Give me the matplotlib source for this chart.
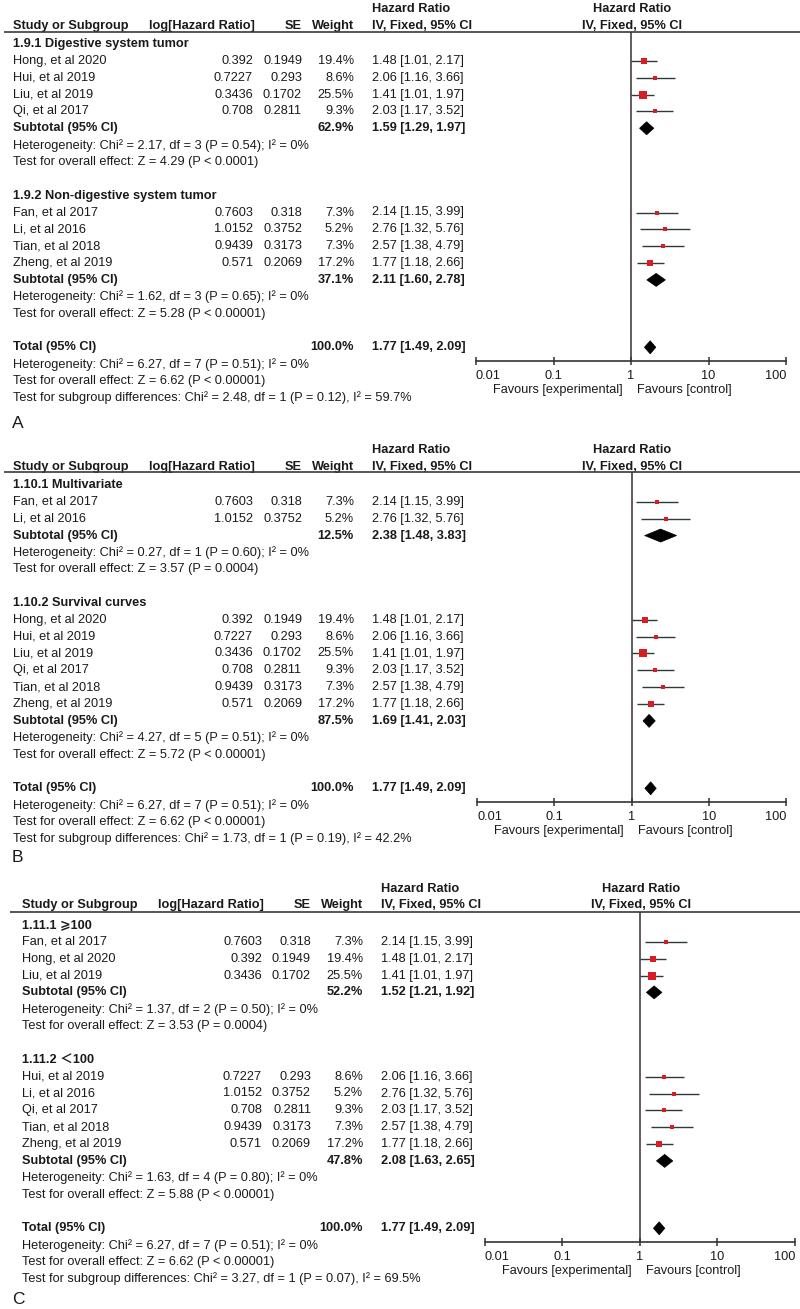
import matplotlib
matplotlib.use("Agg")
import matplotlib.pyplot as plt
import numpy as np
from matplotlib.patches import Polygon

plt.rcParams['font.family'] = ['Liberation Sans', 'DejaVu Sans', 'Noto Sans CJK SC']

# ---------------- data ----------------
study_names = ["Hong, et al 2020", "Hui, et al 2019", "Liu, et al 2019", "Qi, et al 2017",
               "Fan, et al 2017", "Li, et al 2016", "Tian, et al 2018", "Zheng, et al 2019"]
log_hr = [0.392, 0.7227, 0.3436, 0.708, 0.7603, 1.0152, 0.9439, 0.571]
se_vals = [0.1949, 0.293, 0.1702, 0.2811, 0.318, 0.3752, 0.3173, 0.2069]
weights = [19.4, 8.6, 25.5, 9.3, 7.3, 5.2, 7.3, 17.2]
hr = [1.48, 2.06, 1.41, 2.03, 2.14, 2.76, 2.57, 1.77]
hr_lo = [1.01, 1.16, 1.01, 1.17, 1.15, 1.32, 1.38, 1.18]
hr_hi = [2.17, 3.66, 1.97, 3.52, 3.99, 5.76, 4.79, 2.66]

panel_letters = ["A", "B", "C"]

groups_A = ["1.9.1 Digestive system tumor", "1.9.2 Non-digestive system tumor"]
members_A = [["Hong, et al 2020", "Hui, et al 2019", "Liu, et al 2019", "Qi, et al 2017"],
             ["Fan, et al 2017", "Li, et al 2016", "Tian, et al 2018", "Zheng, et al 2019"]]
sub_w_A = [62.9, 37.1]
sub_hr_A = [1.59, 2.11]
sub_lo_A = [1.29, 1.60]
sub_hi_A = [1.97, 2.78]
het_A = ["Heterogeneity: Chi² = 2.17, df = 3 (P = 0.54); I² = 0%",
         "Heterogeneity: Chi² = 1.62, df = 3 (P = 0.65); I² = 0%"]
z_A = ["Test for overall effect: Z = 4.29 (P < 0.0001)",
       "Test for overall effect: Z = 5.28 (P < 0.00001)"]
subdiff_A = "Test for subgroup differences: Chi² = 2.48, df = 1 (P = 0.12), I² = 59.7%"

groups_B = ["1.10.1 Multivariate", "1.10.2 Survival curves"]
members_B = [["Fan, et al 2017", "Li, et al 2016"],
             ["Hong, et al 2020", "Hui, et al 2019", "Liu, et al 2019", "Qi, et al 2017",
              "Tian, et al 2018", "Zheng, et al 2019"]]
sub_w_B = [12.5, 87.5]
sub_hr_B = [2.38, 1.69]
sub_lo_B = [1.48, 1.41]
sub_hi_B = [3.83, 2.03]
het_B = ["Heterogeneity: Chi² = 0.27, df = 1 (P = 0.60); I² = 0%",
         "Heterogeneity: Chi² = 4.27, df = 5 (P = 0.51); I² = 0%"]
z_B = ["Test for overall effect: Z = 3.57 (P = 0.0004)",
       "Test for overall effect: Z = 5.72 (P < 0.00001)"]
subdiff_B = "Test for subgroup differences: Chi² = 1.73, df = 1 (P = 0.19), I² = 42.2%"

groups_C = ["1.11.1 \u2a7e100", "1.11.2 \uff1c100"]
members_C = [["Fan, et al 2017", "Hong, et al 2020", "Liu, et al 2019"],
             ["Hui, et al 2019", "Li, et al 2016", "Qi, et al 2017", "Tian, et al 2018",
              "Zheng, et al 2019"]]
sub_w_C = [52.2, 47.8]
sub_hr_C = [1.52, 2.08]
sub_lo_C = [1.21, 1.63]
sub_hi_C = [1.92, 2.65]
het_C = ["Heterogeneity: Chi² = 1.37, df = 2 (P = 0.50); I² = 0%",
         "Heterogeneity: Chi² = 1.63, df = 4 (P = 0.80); I² = 0%"]
z_C = ["Test for overall effect: Z = 3.53 (P = 0.0004)",
       "Test for overall effect: Z = 5.88 (P < 0.00001)"]
subdiff_C = "Test for subgroup differences: Chi² = 3.27, df = 1 (P = 0.07), I² = 69.5%"

total_w = 100.0
total_hr = 1.77
total_lo = 1.49
total_hi = 2.09
total_het = "Heterogeneity: Chi² = 6.27, df = 7 (P = 0.51); I² = 0%"
total_z = "Test for overall effect: Z = 6.62 (P < 0.00001)"

x_ticks = [0.01, 0.1, 1, 10, 100]
x_ticklabels = ["0.01", "0.1", "1", "10", "100"]

# ---------------- layout ----------------
W, H = 800, 1309
fig = plt.figure(figsize=(W / 100, H / 100), dpi=100)
bg = fig.add_axes([0, 0, 1, 1])
bg.set_xlim(0, W)
bg.set_ylim(H, 0)
bg.axis('off')

FS = 9.2
TXT = '#1a1a1a'
LINE = '#2e3b3b'
RED = '#d61e24'
ROW = 16.85

panels = [
    dict(groups=groups_A, members=members_A, sw=sub_w_A, shr=sub_hr_A, slo=sub_lo_A, shi=sub_hi_A,
         het=het_A, z=z_A, subdiff=subdiff_A, dx=0, h1=9, h2=26, rule=32, row0=44,
         rule_x0=4, ax_l=476, ax_r=786, letter_y=423),
    dict(groups=groups_B, members=members_B, sw=sub_w_B, shr=sub_hr_B, slo=sub_lo_B, shi=sub_hi_B,
         het=het_B, z=z_B, subdiff=subdiff_B, dx=0, h1=450, h2=467, rule=472, row0=485,
         rule_x0=4, ax_l=477, ax_r=786, letter_y=858),
    dict(groups=groups_C, members=members_C, sw=sub_w_C, shr=sub_hr_C, slo=sub_lo_C, shi=sub_hi_C,
         het=het_C, z=z_C, subdiff=subdiff_C, dx=9, h1=889, h2=905, rule=912, row0=925,
         rule_x0=10, ax_l=485, ax_r=795, letter_y=1300),
]


def txt(x, y, s, ha='left', bold=False, size=FS, **kw):
    bg.text(x, y, s, ha=ha, va='center', fontsize=size,
            fontweight='bold' if bold else 'normal', color=TXT, **kw)


for pi, p in enumerate(panels):
    dx = p['dx']
    # headers
    txt(372 + dx, p['h1'], "Hazard Ratio", bold=True)
    txt(632 + dx, p['h1'], "Hazard Ratio", ha='center', bold=True)
    txt(13 + dx, p['h2'], "Study or Subgroup", bold=True)
    txt(255 + dx, p['h2'], "log[Hazard Ratio]", ha='right', bold=True)
    txt(302 + dx, p['h2'], "SE", ha='right', bold=True)
    txt(354 + dx, p['h2'], "Weight", ha='right', bold=True)
    txt(372 + dx, p['h2'], "IV, Fixed, 95% CI", bold=True)
    txt(632 + dx, p['h2'], "IV, Fixed, 95% CI", ha='center', bold=True)
    bg.plot([p['rule_x0'], W], [p['rule'], p['rule']], color='#3a3a3a', lw=1.2, zorder=5,
            solid_capstyle='butt')

    # forest axes
    axis_y = p['row0'] + 18 * ROW + 14
    fa = fig.add_axes([p['ax_l'] / W, 1 - axis_y / H, (p['ax_r'] - p['ax_l']) / W,
                       (axis_y - p['rule']) / H])
    fa.set_xscale('log')
    fa.set_xlim(0.01, 100)
    fa.set_ylim(axis_y, p['rule'])
    fa.patch.set_alpha(0)
    for s in ['top', 'left', 'right']:
        fa.spines[s].set_visible(False)
    fa.spines['bottom'].set_color('#333333')
    fa.spines['bottom'].set_linewidth(1.2)
    fa.set_yticks([])
    fa.set_xticks(x_ticks)
    fa.set_xticklabels(x_ticklabels, fontsize=FS, color=TXT)
    fa.xaxis.set_minor_locator(matplotlib.ticker.NullLocator())
    fa.tick_params(axis='x', direction='inout', length=6, width=1.1, color='#333333', pad=3)
    tl = fa.get_xticklabels()
    tl[0].set_horizontalalignment('left')
    tl[-1].set_horizontalalignment('right')
    fa.axvline(1, color='#3a3030', lw=1.1, zorder=1)

    x_one = (p['ax_l'] + p['ax_r']) / 2
    txt(x_one - 8, axis_y + 29, "Favours [experimental]", ha='right')
    txt(x_one + 6, axis_y + 29, "Favours [control]")

    def diamond(est, lo, hi, y, hh=6.5):
        poly = Polygon([[lo, y], [est, y - hh], [hi, y], [est, y + hh]], closed=True,
                       facecolor='black', edgecolor='black', lw=0.5, zorder=4)
        fa.add_patch(poly)

    r = 0
    for gi, gname in enumerate(p['groups']):
        y = p['row0'] + r * ROW
        txt(13 + dx, y, gname, bold=True)
        r += 1
        for name in p['members'][gi]:
            i = study_names.index(name)
            y = p['row0'] + r * ROW
            txt(13 + dx, y, name)
            txt(253 + dx, y, str(log_hr[i]), ha='right')
            txt(302 + dx, y, str(se_vals[i]), ha='right')
            txt(354 + dx, y, f"{weights[i]:.1f}%", ha='right')
            txt(372 + dx, y, f"{hr[i]:.2f} [{hr_lo[i]:.2f}, {hr_hi[i]:.2f}]")
            fa.plot([hr_lo[i], hr_hi[i]], [y, y], color=LINE, lw=1.0, zorder=2,
                    solid_capstyle='butt')
            side_px = 1.5 * np.sqrt(weights[i])
            fa.plot([hr[i]], [y], marker='s', ms=side_px * 0.72, color=RED, mec=RED,
                    mew=0, zorder=3, linestyle='none')
            r += 1
        y = p['row0'] + r * ROW
        txt(13 + dx, y, "Subtotal (95% CI)", bold=True)
        txt(354 + dx, y, f"{p['sw'][gi]:.1f}%", ha='right', bold=True)
        txt(372 + dx, y, f"{p['shr'][gi]:.2f} [{p['slo'][gi]:.2f}, {p['shi'][gi]:.2f}]", bold=True)
        diamond(p['shr'][gi], p['slo'][gi], p['shi'][gi], y)
        r += 1
        txt(13 + dx, p['row0'] + r * ROW, p['het'][gi])
        r += 1
        txt(13 + dx, p['row0'] + r * ROW, p['z'][gi])
        r += 2
    y = p['row0'] + r * ROW
    txt(13 + dx, y, "Total (95% CI)", bold=True)
    txt(354 + dx, y, f"{total_w:.1f}%", ha='right', bold=True)
    txt(372 + dx, y, f"{total_hr:.2f} [{total_lo:.2f}, {total_hi:.2f}]", bold=True)
    diamond(total_hr, total_lo, total_hi, y)
    r += 1
    txt(13 + dx, p['row0'] + r * ROW, total_het)
    r += 1
    txt(13 + dx, p['row0'] + r * ROW, total_z)
    r += 1
    txt(13 + dx, p['row0'] + r * ROW, p['subdiff'])

    txt(12, p['letter_y'], panel_letters[pi], size=12.5)

fig.savefig("out.png", dpi=100)
